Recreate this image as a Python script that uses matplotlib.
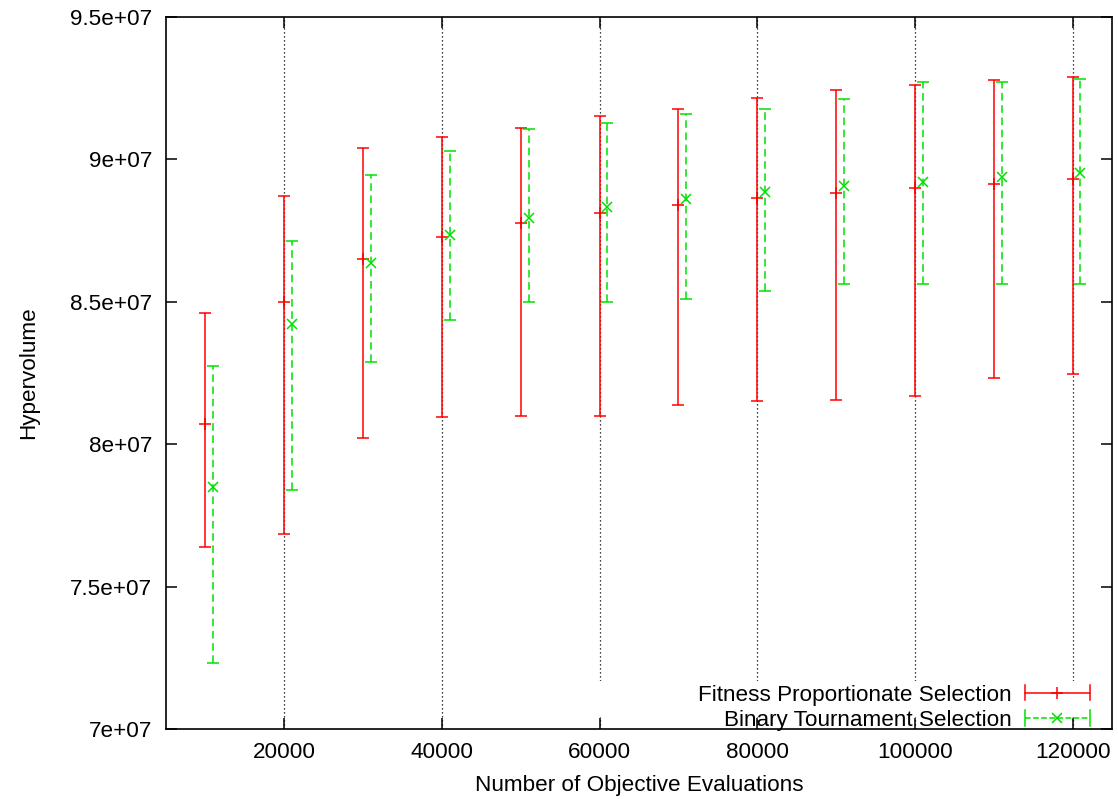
import numpy as np
import matplotlib
matplotlib.use("Agg")
import matplotlib.pyplot as plt
from matplotlib.legend_handler import HandlerBase
from matplotlib.lines import Line2D
from matplotlib.patches import Rectangle
from matplotlib.ticker import FuncFormatter, MultipleLocator

# Number of objective evaluations at which the populations were sampled
evals = np.array([10000, 20000, 30000, 40000, 50000, 60000,
                  70000, 80000, 90000, 100000, 110000, 120000])

# Fitness proportionate selection: mean, lower and upper hypervolume
fps_mean = np.array([8.071e7, 8.498e7, 8.650e7, 8.727e7, 8.774e7, 8.810e7,
                     8.838e7, 8.862e7, 8.880e7, 8.897e7, 8.912e7, 8.929e7])
fps_low = np.array([7.640e7, 7.685e7, 8.020e7, 8.096e7, 8.098e7, 8.098e7,
                    8.137e7, 8.152e7, 8.154e7, 8.168e7, 8.233e7, 8.246e7])
fps_high = np.array([8.460e7, 8.871e7, 9.038e7, 9.076e7, 9.108e7, 9.151e7,
                     9.175e7, 9.215e7, 9.241e7, 9.259e7, 9.277e7, 9.289e7])

# Binary tournament selection: mean, lower and upper hypervolume
bts_mean = np.array([7.848e7, 8.421e7, 8.634e7, 8.733e7, 8.792e7, 8.831e7,
                     8.861e7, 8.883e7, 8.905e7, 8.920e7, 8.938e7, 8.950e7])
bts_low = np.array([7.231e7, 7.839e7, 8.289e7, 8.435e7, 8.499e7, 8.499e7,
                    8.508e7, 8.538e7, 8.560e7, 8.560e7, 8.560e7, 8.560e7])
bts_high = np.array([8.274e7, 8.711e7, 8.943e7, 9.029e7, 9.104e7, 9.125e7,
                     9.159e7, 9.175e7, 9.211e7, 9.269e7, 9.269e7, 9.280e7])

labels = ["Fitness Proportionate Selection", "Binary Tournament Selection"]

RED = "#ff0000"
GREEN = "#00e000"
DASH = (0, (5, 3))
SHIFT = 1000  # horizontal offset so the two series do not overlap
FS = 16.2

plt.rcParams["font.family"] = ["Liberation Sans", "DejaVu Sans"]
plt.rcParams["font.size"] = FS

fig = plt.figure(figsize=(11.18, 7.99), dpi=100)
ax = fig.add_axes([166 / 1118, 1 - 729 / 799, 946 / 1118, 712.5 / 799])

ax.errorbar(evals, fps_mean,
            yerr=[fps_mean - fps_low, fps_high - fps_mean],
            fmt="+", color=RED, ecolor=RED, elinewidth=1.1,
            capsize=4, capthick=1.1, markersize=8, markeredgewidth=1.1,
            zorder=3)

eb = ax.errorbar(evals + SHIFT, bts_mean,
                 yerr=[bts_mean - bts_low, bts_high - bts_mean],
                 fmt="x", color=GREEN, ecolor=GREEN, elinewidth=1.1,
                 capsize=4, capthick=1.1, markersize=7.5, markeredgewidth=1.1,
                 zorder=3)
eb[2][0].set_linestyle(DASH)

ax.set_xlim(5000, 125000)
ax.set_ylim(7.0e7, 9.5e7)
ax.xaxis.set_major_locator(MultipleLocator(20000))
ax.yaxis.set_major_locator(MultipleLocator(0.5e7))
ax.yaxis.set_major_formatter(FuncFormatter(lambda v, p: "%g" % v))

ax.tick_params(direction="in", length=8, width=1.1, top=True, right=True,
               pad=9, labelsize=FS, colors="black")
ax.tick_params(axis="y", pad=10)
for s in ax.spines.values():
    s.set_linewidth(1.2)
    s.set_color("black")

ax.set_axisbelow(True)
ax.xaxis.grid(True, color="black", linestyle=(0, (1, 2.2)), linewidth=0.9)
ax.yaxis.grid(False)

# Opaque area behind the key
ax.add_patch(Rectangle((0.445, 0.017), 0.555, 0.05, transform=ax.transAxes,
                       facecolor="white", edgecolor="none", zorder=0.6))

ax.set_xlabel("Number of Objective Evaluations", labelpad=9)
ax.set_ylabel("Hypervolume", labelpad=22)


class ErrorKeyHandler(HandlerBase):
    def create_artists(self, legend, orig_handle, xdescent, ydescent,
                       width, height, fontsize, trans):
        y = height / 2 - ydescent
        x0, x1 = -xdescent, width - xdescent
        xm = (x0 + x1) / 2
        cap = 5.5
        col = orig_handle.get_color()
        ls = orig_handle.get_linestyle()
        bar = Line2D([x0, x1], [y, y], color=col, linestyle=ls, linewidth=1.1)
        c0 = Line2D([x0, x0], [y - cap, y + cap], color=col, linewidth=1.1)
        c1 = Line2D([x1, x1], [y - cap, y + cap], color=col, linewidth=1.1)
        mk = Line2D([xm], [y], color=col, linestyle="none",
                    marker=orig_handle.get_marker(),
                    markersize=orig_handle.get_markersize(),
                    markeredgewidth=1.1)
        arts = [bar, c0, c1, mk]
        for a in arts:
            a.set_transform(trans)
        return arts


h1 = Line2D([], [], color=RED, linestyle="-", marker="+", markersize=8)
h2 = Line2D([], [], color=GREEN, linestyle="--", marker="x", markersize=7.5)
handler = ErrorKeyHandler()
leg = ax.legend([h1, h2], labels, loc="lower right",
                bbox_to_anchor=(1 - 4 / 946, -20 / 712.5),
                markerfirst=False, frameon=False, fontsize=FS,
                handlelength=2.9, handletextpad=0.6, labelspacing=0.2,
                borderpad=0.3, handler_map={h1: handler, h2: handler})

fig.savefig("out.png", dpi=100)
